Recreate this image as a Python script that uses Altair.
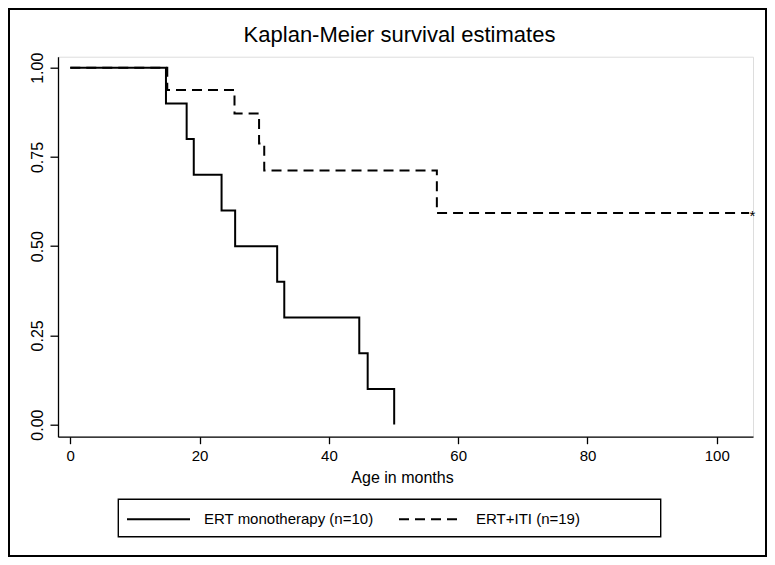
import altair as alt
import pandas as pd

# ---------------- data ----------------
mono_label = "ERT monotherapy (n=10)"
iti_label = "ERT+ITI (n=19)"

mono_time = [0, 14.8, 18.0, 19.1, 23.4, 25.5, 32.0, 33.1, 44.7, 46.0, 50.1]
mono_surv = [1.0, 0.9, 0.8, 0.7, 0.6, 0.5, 0.4, 0.3, 0.2, 0.1, 0.0]

iti_time = [0, 15.0, 25.4, 29.2, 30.0, 56.7, 105.0]
iti_surv = [1.0, 0.9375, 0.872, 0.7875, 0.712, 0.593, 0.593]

censor_time = [105.5]
censor_surv = [0.593]

x_ticks = [0, 20, 40, 60, 80, 100]
y_ticks = [0.0, 0.25, 0.5, 0.75, 1.0]

title_text = "Kaplan-Meier survival estimates"
x_title = "Age in months"

FONT = "Liberation Sans"

df = pd.concat([
    pd.DataFrame({"time": mono_time, "surv": mono_surv, "group": mono_label}),
    pd.DataFrame({"time": iti_time, "surv": iti_surv, "group": iti_label}),
], ignore_index=True)
censor_df = pd.DataFrame({"time": censor_time, "surv": censor_surv})
dummy = pd.DataFrame({"k": [0]})

x_scale = alt.Scale(domain=[-1.9, 105.6], nice=False, zero=False)
y_scale = alt.Scale(domain=[-0.034, 1.031], nice=False, zero=False)

x_axis = alt.Axis(
    values=x_ticks, format="d", title=x_title, grid=False,
    labelFont=FONT, labelFontSize=15, labelColor="black", labelPadding=5,
    labelFlush=False, tickSize=7, tickColor="black", tickWidth=1.3,
    domainColor="black", domainWidth=1.3,
    titleFont=FONT, titleFontSize=16, titleFontWeight="normal", titleColor="black",
    titleX=344, titleY=46, titleBaseline="alphabetic",
)
y_axis = alt.Axis(
    values=y_ticks, format=".2f", title=None, grid=False,
    labelFont=FONT, labelFontSize=16, labelColor="black", labelAngle=270,
    labelAlign="center", labelBaseline="bottom", labelPadding=5,
    tickSize=8, tickColor="black", tickWidth=1.3,
    domainColor="black", domainWidth=1.3,
)

# outer graph frame (decoration)
frame = alt.Chart(dummy).mark_rect(
    fill="white", fillOpacity=0, stroke="black", strokeWidth=2
).encode(
    x=alt.value(-49), x2=alt.value(708), y=alt.value(-47.7), y2=alt.value(499.3)
)

# legend box (decoration)
legend_box = alt.Chart(dummy).mark_rect(
    fill="white", fillOpacity=0, stroke="black", strokeWidth=1.4
).encode(
    x=alt.value(60.3), x2=alt.value(602.7), y=alt.value(442.6), y2=alt.value(480)
)

lines = alt.Chart(df).mark_line(
    interpolate="step-after", color="black", strokeWidth=2
).encode(
    x=alt.X("time:Q", scale=x_scale, axis=x_axis),
    y=alt.Y("surv:Q", scale=y_scale, axis=y_axis),
    strokeDash=alt.StrokeDash(
        "group:N",
        scale=alt.Scale(domain=[mono_label, iti_label], range=[[1, 0], [10, 6]]),
        legend=alt.Legend(
            title=None, orient="none", legendX=58, legendY=419.8,
            direction="horizontal", symbolType="stroke", symbolSize=3969,
            symbolStrokeWidth=2, symbolStrokeColor="black",
            labelFont=FONT, labelFontSize=15, labelColor="black",
            labelOffset=13, columnPadding=21, padding=10,
            labelLimit=400,
        ),
    ),
)

censor = alt.Chart(censor_df).mark_text(
    text="*", font=FONT, fontSize=15, color="black", dy=3
).encode(
    x=alt.X("time:Q", scale=x_scale),
    y=alt.Y("surv:Q", scale=y_scale),
)

chart = alt.layer(frame, legend_box, lines, censor).properties(
    width=695,
    height=380,
    title=alt.TitleParams(
        title_text, font=FONT, fontSize=22, fontWeight="normal", color="black",
        anchor="middle", dx=-6, dy=22, baseline="alphabetic", offset=-33.5,
    ),
    autosize=alt.AutoSizeParams(type="none"),
    padding={"left": 50, "top": 48.7, "right": 14, "bottom": 120.3},
).configure_view(stroke=None).configure(background="white")

chart.save("out.html", embed_options={"renderer": "svg", "actions": False})
